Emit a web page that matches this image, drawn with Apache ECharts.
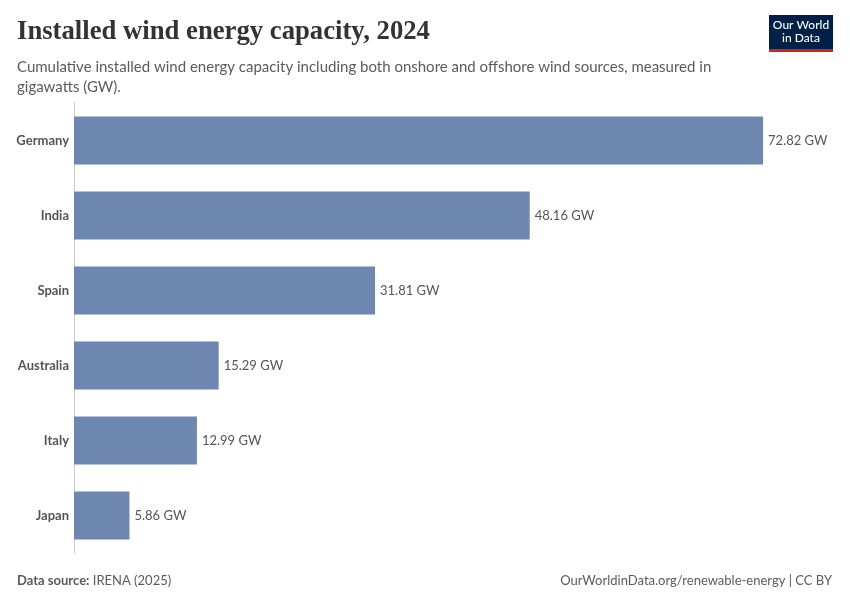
<!DOCTYPE html>
<html><head><meta charset="utf-8">
<script src="https://cdn.jsdelivr.net/npm/echarts@6/dist/echarts.min.js"></script>
<style>html,body{margin:0;padding:0;background:#fff}#c{width:850px;height:600px}</style>
</head><body><div id="c"></div>
<script>
const categories = ["Germany", "India", "Spain", "Australia", "Italy", "Japan"];
const values = [72.82, 48.16, 31.81, 15.29, 12.99, 5.86];
const unit = " GW";

const chart = echarts.init(document.getElementById('c'), null, {renderer: 'canvas'});
chart.setOption({
  animation: false,
  backgroundColor: '#ffffff',
  title: [
    {text: 'Installed wind energy capacity, 2024', left: 12, top: 14,
     textStyle: {fontFamily: 'Liberation Serif', fontWeight: 'bold', fontSize: 26.7, color: '#333333'}},
    {text: 'Cumulative installed wind energy capacity including both onshore and offshore wind sources, measured in\ngigawatts (GW).',
     left: 12, top: 52, textStyle: {fontFamily: 'Lato', fontWeight: 'normal', fontSize: 15, color: '#5b5b5b', lineHeight: 20}},
    {text: '{b|Data source:} IRENA (2025)', left: 12, top: 569,
     textStyle: {fontFamily: 'Lato', fontWeight: 'normal', fontSize: 13, color: '#5b5b5b', rich: {b: {fontFamily: 'Lato', fontWeight: 'bold', fontSize: 13, color: '#5b5b5b'}}}},
    {text: 'OurWorldinData.org/renewable-energy | CC BY', right: 13, top: 569,
     textStyle: {fontFamily: 'Lato', fontWeight: 'normal', fontSize: 13, color: '#5b5b5b'}}
  ],
  graphic: [
    {type: 'rect', shape: {x: 769, y: 15, width: 64, height: 35}, style: {fill: '#002147'}},
    {type: 'rect', shape: {x: 769, y: 49, width: 64, height: 3}, style: {fill: '#ce261e'}},
    {type: 'text', x: 801, y: 32, style: {text: 'Our World\nin Data', fill: '#ffffff', font: '500 12px Lato', align: 'center', verticalAlign: 'middle', lineHeight: 13}}
  ],
  grid: {left: 74, right: 19, top: 103, height: 450, containLabel: false},
  xAxis: {type: 'value', min: 0, max: 80, show: false},
  yAxis: {type: 'category', data: categories, inverse: true,
    axisLine: {show: true, lineStyle: {color: '#cccccc', width: 1}},
    axisTick: {show: false},
    axisLabel: {fontFamily: 'Lato', fontWeight: 'bold', fontSize: 13, color: '#555555', margin: 5}},
  series: [{
    type: 'bar', data: values, barWidth: 48,
    itemStyle: {color: '#6d87b0'},
    label: {show: true, position: 'right', distance: 5, fontFamily: 'Lato', fontSize: 13, color: '#555555',
      formatter: p => p.value.toFixed(2) + unit}
  }]
});
</script></body></html>
